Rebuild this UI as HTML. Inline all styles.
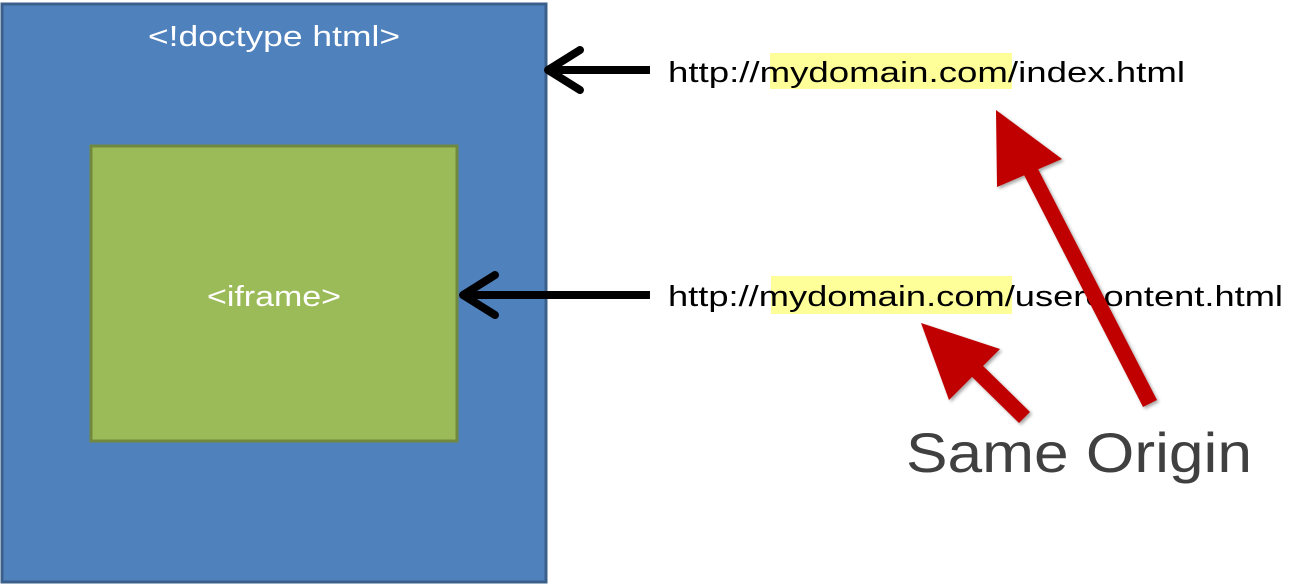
<!DOCTYPE html>
<html><head><meta charset="utf-8"><style>
html,body{margin:0;padding:0;background:#fff;width:1310px;height:585px;overflow:hidden}
svg{display:block}
text{font-family:"Liberation Sans",sans-serif}
</style></head><body>
<svg width="1310" height="585" viewBox="0 0 1310 585" xmlns="http://www.w3.org/2000/svg">
<defs>
<filter id="sh" x="-20%" y="-20%" width="140%" height="140%"><feDropShadow dx="2" dy="2" stdDeviation="1.5" flood-color="#000" flood-opacity="0.35"/></filter>
</defs>
<rect x="2" y="4" width="544" height="578" fill="#4f81bd" stroke="#3a5f8b" stroke-width="3"/>
<rect x="91" y="146" width="366" height="295" fill="#9bbb59" stroke="#71893f" stroke-width="3"/>
<text x="148" y="46" fill="#fff" font-size="29" textLength="252" lengthAdjust="spacingAndGlyphs">&lt;!doctype html&gt;</text>
<text x="207" y="306" fill="#fff" font-size="29" textLength="134" lengthAdjust="spacingAndGlyphs">&lt;iframe&gt;</text>
<g stroke="#000" stroke-width="8" fill="none" stroke-linecap="round" stroke-linejoin="round">
<line x1="650" y1="70" x2="548" y2="70" stroke-linecap="butt"/>
<polyline points="580,50 548,70 580,90"/>
<line x1="650" y1="295" x2="463" y2="295" stroke-linecap="butt"/>
<polyline points="495,275 463,295 495,315"/>
</g>
<rect x="770" y="53" width="242" height="36" fill="#ffff99"/>
<rect x="771" y="276" width="241" height="38" fill="#ffff99"/>
<text x="668" y="82" font-size="29" fill="#000" textLength="517" lengthAdjust="spacingAndGlyphs">http://mydomain.com/index.html</text>
<text x="668" y="306" font-size="29" fill="#000" textLength="615" lengthAdjust="spacingAndGlyphs">http://mydomain.com/usercontent.html</text>
<g fill="#c00000" filter="url(#sh)">
<polygon points="1157,400 1143,407 1023,173 1037,167"/>
<polygon points="996,110 997,187 1062,159"/>
<polygon points="1030,412 1019,423 965,370 976,359"/>
<polygon points="921,323 949,400 1000,349"/>
</g>
<text x="906" y="472" font-size="56" fill="#404040" textLength="346" lengthAdjust="spacingAndGlyphs">Same Origin</text>
</svg>
</body></html>
